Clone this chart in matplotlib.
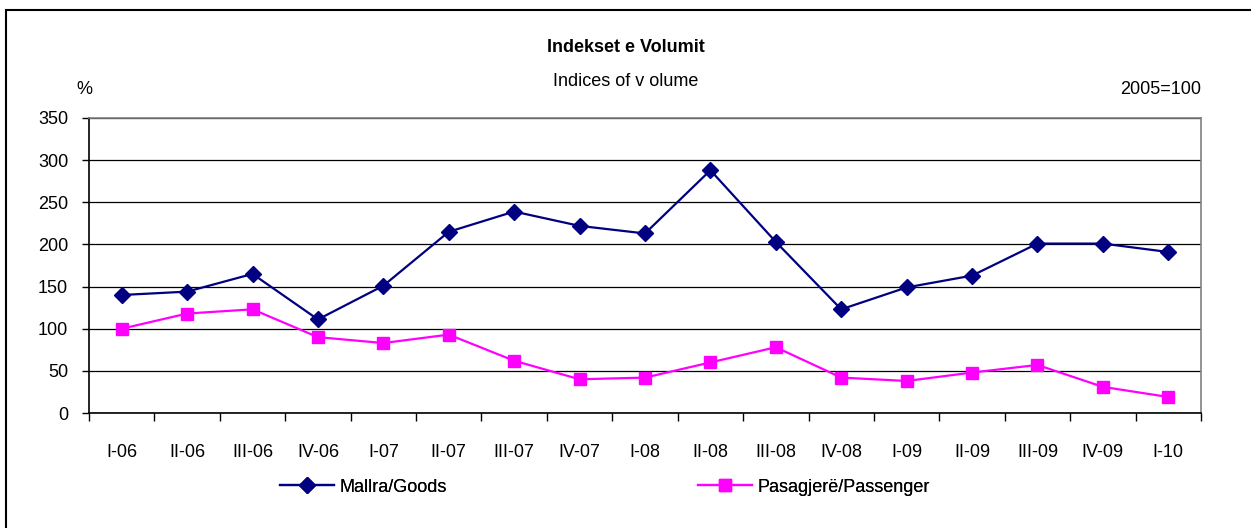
import matplotlib
matplotlib.use("Agg")
import matplotlib.pyplot as plt
from matplotlib.patches import Rectangle

plt.rcParams['font.family'] = ['Liberation Sans Narrow', 'Liberation Sans', 'DejaVu Sans']

quarters = ['I-06', 'II-06', 'III-06', 'IV-06', 'I-07', 'II-07', 'III-07', 'IV-07',
            'I-08', 'II-08', 'III-08', 'IV-08', 'I-09', 'II-09', 'III-09', 'IV-09', 'I-10']
goods = [140, 144, 165, 111, 151, 215, 239, 222, 213, 288, 203, 123, 149, 163, 201, 201, 191]
passenger = [100, 118, 123, 90, 83, 93, 62, 40, 42, 60, 78, 42, 38, 48, 57, 31, 19]
yticks = [0, 50, 100, 150, 200, 250, 300, 350]

W, H = 1251, 528
fs = 13
fig = plt.figure(figsize=(W / 100, H / 100), dpi=100)

# outer chart frame
fig.patches.append(Rectangle((6 / W, -0.01), 1.05, 1 - 10 / H + 0.01, transform=fig.transFigure,
                             fill=False, edgecolor='black', linewidth=1.5))

ax = fig.add_axes([89 / W, 1 - 413 / H, 1112 / W, 295 / H])
x = list(range(len(quarters)))
l1, = ax.plot(x, goods, color='#000080', linewidth=1.6, marker='D', markersize=8,
              label='Mallra/Goods', clip_on=False)
l2, = ax.plot(x, passenger, color='#FF00FF', linewidth=1.6, marker='s', markersize=9,
              label='Pasagjerë/Passenger', clip_on=False)

ax.set_xlim(-0.5, len(quarters) - 0.5)
ax.set_ylim(0, 350)
ax.set_yticks(yticks)
ax.set_yticklabels([str(v) for v in yticks])
ax.yaxis.grid(True, color='black', linewidth=0.9)
ax.set_axisbelow(True)

# category axis: ticks between categories, labels centred
ax.set_xticks([i - 0.5 for i in range(len(quarters) + 1)])
ax.set_xticklabels([])
ax.set_xticks(x, minor=True)
ax.set_xticklabels(quarters, minor=True)
ax.tick_params(axis='x', which='major', direction='out', length=5.5, width=1, color='black')
ax.tick_params(axis='x', which='minor', length=0, pad=22, labelsize=fs)
ax.tick_params(axis='y', direction='out', length=5, width=1, pad=10, labelsize=fs)

for s in ['left', 'bottom']:
    ax.spines[s].set_color('black')
    ax.spines[s].set_linewidth(1.2)
for s in ['right', 'top']:
    ax.spines[s].set_color('#808080')
    ax.spines[s].set_linewidth(1.2)

fig.text(626 / W, 1 - 47 / H, 'Indekset e Volumit', ha='center', va='center',
         fontsize=fs, fontweight='bold')
fig.text(626 / W, 1 - 82 / H, 'Indices of v olume', ha='center', va='center', fontsize=fs)
fig.text(84 / W, 1 - 90 / H, '%', ha='center', va='center', fontsize=fs)
fig.text(1201 / W, 1 - 89 / H, '2005=100', ha='right', va='center', fontsize=fs)

for line, x0 in [(l1, 280), (l2, 698)]:
    leg = fig.legend(handles=[line], loc='center left', bbox_to_anchor=(x0 / W, 1 - 487 / H),
                     frameon=False, fontsize=fs, handlelength=3.0, handletextpad=0.3,
                     borderaxespad=0, borderpad=0)
    fig.add_artist(leg)

fig.savefig('out.png', dpi=100)
